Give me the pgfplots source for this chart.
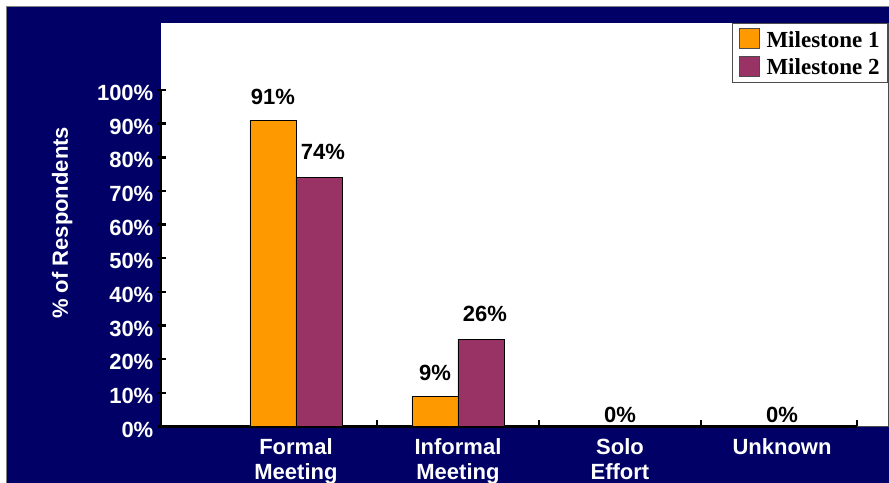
\documentclass[border=0pt]{standalone}
\usepackage{pgfplots}
\pgfplotsset{compat=1.18}
\usepackage{fontspec}
\setmainfont{Liberation Sans}
\newfontfamily\legfont{Liberation Serif}
\definecolor{navy}{HTML}{000066}
\definecolor{mone}{HTML}{FF9900}
\definecolor{mtwo}{HTML}{993366}
\newcommand\lab{\fontsize{22bp}{25bp}\selectfont\bfseries}
\pgfplotsset{
  sqleg/.style={legend image code/.code={\draw[fill=#1, draw=black!70, line width=0.8bp] (0bp,-9bp) rectangle (20bp,11bp);}},
  barlab/.style 2 args={nodes near coords, point meta=explicit symbolic,
    every node near coord/.append style={font=\lab, text=black, inner sep=0pt, anchor=south, yshift=#1, xshift=#2}},
}
\begin{document}
\begin{tikzpicture}[x=1bp,y=1bp]
\useasboundingbox (0,0) rectangle (889,483);
\clip (0,0) rectangle (889,483);
\fill[white] (0,0) rectangle (889,483);
\fill[navy] (6,0) rectangle (889,476);
\draw[gray, line width=1bp] (6,0) -- (6,476) -- (889,476);
\fill[white] (161,56) rectangle (888,460);
\draw[black!70, line width=0.8bp] (161,56.5) -- (888,56.5) -- (888,460);
\begin{axis}[
  at={(161bp,56.5bp)}, anchor=south west,
  scale only axis, width=696bp, height=336.5bp,
  xmin=-0.833, xmax=3.463, ymin=0, ymax=100,
  axis lines*=left,
  axis line style={line width=2.5bp, black},
  tick align=center, major tick length=9bp,
  xtick={0,1,2,3},
  xticklabels={Formal\\Meeting, Informal\\Meeting, Solo\\Effort, Unknown},
  xticklabel style={align=center, text=white, font=\lab, inner sep=0pt, yshift=-7bp},
  xtick style={draw=none},
  extra x ticks={0.5,1.5,2.5,3.463},
  extra x tick labels={},
  extra x tick style={xtick style={draw=black, line width=2.5bp}, tick align=inside, major tick length=6bp},
  ytick={0,10,20,30,40,50,60,70,80,90,100},
  yticklabels={0\%,10\%,20\%,30\%,40\%,50\%,60\%,70\%,80\%,90\%,100\%},
  yticklabel style={text=white, font=\lab, inner sep=0pt, xshift=-3bp, yshift=-3bp},
  ytick style={line width=2.5bp, black},
  ylabel={\% of Respondents},
  ylabel style={font=\lab, text=white, at={(axis description cs:-0.142,0.605)}, anchor=center},
  legend style={at={(1.0445,1.199)}, anchor=north east, draw=black!70, line width=0.8bp, fill=white,
    font=\legfont\fontsize{23bp}{25bp}\selectfont\bfseries, inner xsep=6bp, inner ysep=5bp, row sep=5bp,
    /tikz/every odd column/.append style={column sep=5bp}},
  legend cell align=left,
]
\addplot[ybar, bar width=0.284, bar shift=-0.142, fill=mone, draw=black, line width=0.8bp, sqleg=mone, barlab={15bp}{-23bp}]
  coordinates {(0,91)[91\%] (1,9)[9\%] (2,0)[\empty] (3,0)[\empty]};
\addlegendentry{Milestone 1}
\addplot[ybar, bar width=0.284, bar shift=0.142, fill=mtwo, draw=black, line width=0.8bp, sqleg=mtwo, barlab={17bp}{27bp}]
  coordinates {(0,74)[74\%] (1,26)[26\%] (2,0)[\empty] (3,0)[\empty]};
\addlegendentry{Milestone 2}
\addplot[forget plot, ybar, bar width=0.01, bar shift=0, draw=none, fill=none, barlab={4bp}{0bp}]
  coordinates {(2,0)[0\%] (3,0)[0\%]};
\end{axis}
\end{tikzpicture}
\end{document}
